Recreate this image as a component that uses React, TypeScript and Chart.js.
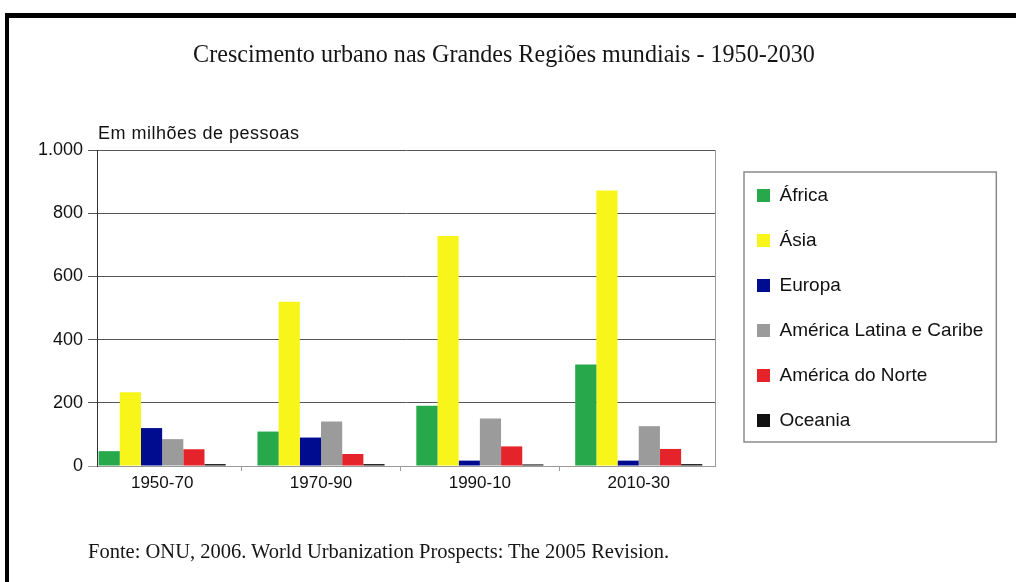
import React, { useEffect, useRef } from "react";
import { Chart, registerables } from "chart.js";

Chart.register(...registerables);

// ---- data ----
const categories = ["1950-70", "1970-90", "1990-10", "2010-30"];
const seriesNames = ["África", "Ásia", "Europa", "América Latina e Caribe", "América do Norte", "Oceania"];
const africa = [47, 109, 191, 321];
const asia = [233, 520, 728, 872];
const europa = [120, 90, 17, 17];
const americaLatina = [85, 141, 150, 126];
const americaNorte = [53, 38, 62, 54];
const oceania = [6, 6, 5, 6];
const seriesColors = ["#27a94b", "#f8f51a", "#000c8f", "#9b9b9b", "#e5232b", "#111111"];
const yTicks = [0, 200, 400, 600, 800, 1000];
const yTickLabels = ["0", "200", "400", "600", "800", "1.000"];
const titleText = "Crescimento urbano nas Grandes Regiões mundiais - 1950-2030";
const yAxisLabel = "Em milhões de pessoas";
const sourceText = "Fonte: ONU, 2006. World Urbanization Prospects: The 2005 Revision.";

const SANS = '"Liberation Sans", Arial, sans-serif';
const SERIF = '"Liberation Serif", "Times New Roman", serif';

// lets the right-hand legend take its natural width (Chart.js caps side boxes at a fraction of the canvas)
const legendWidthFix = {
  id: "legendWidthFix",
  afterInit(chart: any) {
    const lg = chart.legend;
    if (!lg || lg.__patched) return;
    const orig = lg.update.bind(lg);
    lg.update = (w: number, h: number, m: any) => orig(Math.max(w, 600), h, m);
    lg.__patched = true;
  },
};

const legendBorder = {
  id: "legendBorder",
  afterDraw(chart: any) {
    const lg = chart.legend;
    if (!lg || !lg.legendHitBoxes || !lg.legendHitBoxes.length) return;
    const hb = lg.legendHitBoxes;
    const left = Math.min(...hb.map((h: any) => h.left)) - 13;
    const right = Math.max(...hb.map((h: any) => h.left + h.width)) + 13;
    const top = hb[0].top - 14;
    const bottom = hb[hb.length - 1].top + 31;
    const ctx = chart.ctx;
    ctx.save();
    ctx.strokeStyle = "#8a8a8a";
    ctx.lineWidth = 1.5;
    ctx.strokeRect(left, top, right - left, bottom - top);
    ctx.restore();
  },
};

export default function App() {
  const canvasRef = useRef<HTMLCanvasElement | null>(null);

  useEffect(() => {
    const canvas = canvasRef.current;
    if (!canvas) return;
    const mctx = canvas.getContext("2d")!;
    mctx.font = `19px ${SANS}`;
    const textW = Math.max(...seriesNames.map((s) => mctx.measureText(s).width));
    const legendPad = 26;
    const legendWidth = legendPad + 13 + 19 / 2 + textW + 10;
    const padRight = Math.max(0, 1016 - 731 - legendWidth);

    const values = [africa, asia, europa, americaLatina, americaNorte, oceania];
    const datasets = values.map((vals, i) => ({
      label: seriesNames[i],
      data: vals.map((v, j) => ({ x: j, y: v })),
      backgroundColor: seriesColors[i],
      borderColor: seriesColors[i],
      borderWidth: 0,
      categoryPercentage: 0.8,
      barPercentage: 1.0,
    }));

    const chart = new Chart(canvas, {
      type: "bar",
      data: { datasets },
      plugins: [legendWidthFix, legendBorder],
      options: {
        animation: false,
        responsive: false,
        layout: { padding: { left: 0, top: 150, right: padRight, bottom: 0 } },
        plugins: {
          title: { display: false },
          tooltip: { enabled: false },
          legend: {
            position: "right",
            fullSize: false,
            align: "center",
            labels: {
              boxWidth: 13,
              boxHeight: 13,
              padding: legendPad,
              color: "#111",
              font: { family: SANS, size: 19 },
            },
          },
        },
        scales: {
          x: {
            type: "linear",
            min: -0.41,
            max: 3.48,
            offset: false,
            grid: {
              display: true,
              drawOnChartArea: false,
              drawTicks: true,
              tickLength: 5,
              color: "#9a9a9a",
              offset: true,
            },
            border: { display: true, color: "#9a9a9a", width: 1 },
            ticks: {
              stepSize: 1,
              includeBounds: false,
              autoSkip: false,
              maxRotation: 0,
              padding: 2,
              color: "#111",
              font: { family: SANS, size: 17 },
              callback: (v: any) => categories[Number(v)] ?? "",
            },
            afterFit: (s: any) => {
              s.height = 116;
            },
          },
          y: {
            type: "linear",
            position: "left",
            min: 0,
            max: 1000,
            ticks: {
              stepSize: 200,
              padding: 5,
              color: "#111",
              font: { family: SANS, size: 18 },
              callback: (v: any) => {
                const i = yTicks.indexOf(Number(v));
                return i >= 0 ? yTickLabels[i] : "";
              },
            },
            grid: {
              color: (c: any) => (c.tick && c.tick.value === 0 ? "#9a9a9a" : "#555"),
              tickLength: 9,
              lineWidth: 1,
            },
            border: { display: true, color: "#333", width: 1 },
            afterFit: (s: any) => {
              s.width = 97;
            },
          },
          yR: {
            type: "linear",
            position: "right",
            min: 0,
            max: 1000,
            grid: { display: false, drawOnChartArea: false },
            ticks: { display: false },
            border: { display: true, color: "#9a9a9a", width: 1 },
            afterFit: (s: any) => {
              s.width = 16;
            },
          },
        },
      } as any,
    });
    return () => chart.destroy();
  }, []);

  return (
    <div
      style={{
        position: "fixed",
        left: 0,
        top: 0,
        width: 1016,
        height: 582,
        background: "#fff",
        overflow: "hidden",
      }}
    >
      <canvas
        ref={canvasRef}
        width={1016}
        height={582}
        style={{ position: "absolute", left: 0, top: 0, width: 1016, height: 582 }}
      />
      <div
        style={{
          position: "absolute",
          left: 5,
          top: 13,
          right: 0,
          bottom: 0,
          borderTop: "5px solid #000",
          borderLeft: "4px solid #000",
          pointerEvents: "none",
        }}
      />
      <div
        style={{
          position: "absolute",
          left: 504,
          top: 41,
          fontFamily: SERIF,
          fontSize: 26,
          lineHeight: "26px",
          color: "#151515",
          whiteSpace: "nowrap",
          transform: "translateX(-50%) scaleX(0.927)",
          transformOrigin: "center",
        }}
      >
        {titleText}
      </div>
      <div
        style={{
          position: "absolute",
          left: 98,
          top: 124,
          fontFamily: SANS,
          fontSize: 18,
          lineHeight: "18px",
          letterSpacing: "0.5px",
          color: "#111",
          whiteSpace: "nowrap",
        }}
      >
        {yAxisLabel}
      </div>
      <div
        style={{
          position: "absolute",
          left: 88,
          top: 541,
          fontFamily: SERIF,
          fontSize: 20.5,
          lineHeight: "20.5px",
          color: "#151515",
          whiteSpace: "nowrap",
        }}
      >
        {sourceText}
      </div>
    </div>
  );
}
